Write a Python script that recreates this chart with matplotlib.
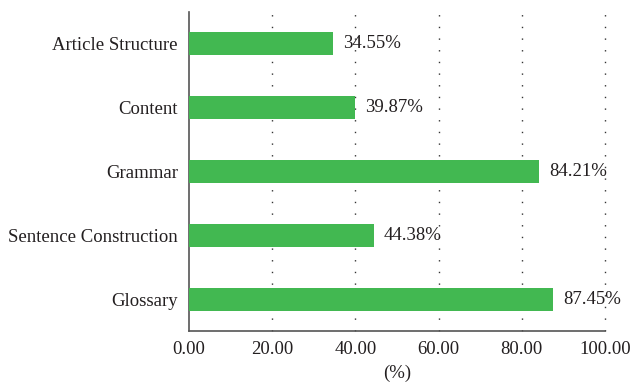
import matplotlib
matplotlib.use("Agg")
import matplotlib.pyplot as plt

categories = ["Article Structure", "Content", "Grammar", "Sentence Construction", "Glossary"]
values = [34.55, 39.87, 84.21, 44.38, 87.45]
xticks = [0, 20, 40, 60, 80, 100]

plt.rcParams['font.family'] = ['Liberation Serif', 'DejaVu Serif']
FS = 13.5
TC = "#231f20"

fig = plt.figure(figsize=(6.3, 3.87), dpi=100)
ax = fig.add_axes([189/630, 1 - 331/387, (605-189)/630, (331-12)/387])

ypos = list(range(len(categories)))
ax.barh(ypos, values, height=0.36, color="#42b851", zorder=3)
ax.set_ylim(len(categories) - 0.5, -0.5)
ax.set_xlim(0, 100)
ax.set_yticks(ypos)
ax.set_yticklabels(categories, fontsize=FS, color=TC)
ax.set_xticks(xticks)
ax.set_xticklabels([f"{t:.2f}" for t in xticks], fontsize=FS, color=TC)
ax.tick_params(axis='y', length=0, pad=8)
ax.tick_params(axis='x', length=0, pad=7)
for y, v in zip(ypos, values):
    ax.text(v + 2.5, y, f"{v:.2f}%", va="center", ha="left", fontsize=FS, color=TC, zorder=4)
ax.set_xlabel("(%)", fontsize=FS, color=TC, labelpad=5)
for x in xticks[1:]:
    ax.axvline(x, color="#333333", linestyle=(0, (1, 7.4)), linewidth=1.0, zorder=1, clip_on=False)
for s in ["top", "right"]:
    ax.spines[s].set_visible(False)
for s in ["left", "bottom"]:
    ax.spines[s].set_color("#555555")
    ax.spines[s].set_linewidth(1.2)
fig.savefig("out.png", dpi=100)
